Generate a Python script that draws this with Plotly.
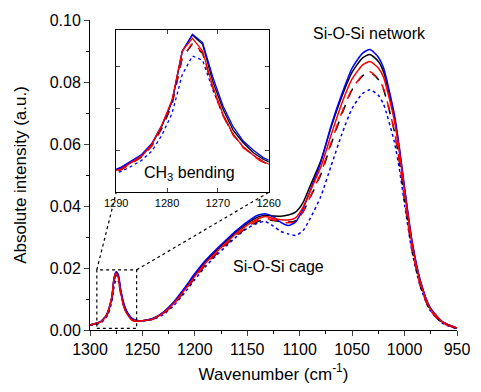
import plotly.graph_objects as go

# ---------------- data ----------------
wavenumber = [1300, 1296, 1291, 1289, 1287, 1285, 1283, 1281, 1279, 1277, 1275, 1273, 1271, 1269,
              1267, 1265, 1263, 1261, 1259, 1255, 1250, 1240, 1230, 1220, 1210, 1200, 1190, 1180,
              1170, 1160, 1150, 1140, 1133, 1125, 1118, 1111, 1104, 1097, 1090, 1080, 1070, 1060,
              1050, 1040, 1033, 1025, 1020, 1010, 1005, 1000, 993, 985, 976, 964, 950]

black_solid = [0.0016, 0.0020, 0.0025, 0.0029, 0.0036, 0.0043, 0.0057, 0.0079, 0.0108, 0.0168, 0.0187, 0.0176, 0.0132, 0.0099,
               0.0074, 0.0059, 0.0047, 0.0039, 0.0034, 0.0030, 0.0030, 0.0037, 0.0057, 0.0089, 0.0132, 0.0178, 0.0220, 0.0255,
               0.0287, 0.0318, 0.0344, 0.0364, 0.0370, 0.0368, 0.0367, 0.0371, 0.0380, 0.0410, 0.0465, 0.0545, 0.0655, 0.0752,
               0.0832, 0.0878, 0.0889, 0.0866, 0.0832, 0.0690, 0.0582, 0.0453, 0.0285, 0.0157, 0.0073, 0.0026, 0.0006]

blue_solid = [0.0016, 0.0020, 0.0025, 0.0030, 0.0037, 0.0045, 0.0058, 0.0080, 0.0108, 0.0167, 0.0188, 0.0178, 0.0137, 0.0103,
              0.0078, 0.0061, 0.0050, 0.0041, 0.0036, 0.0031, 0.0030, 0.0037, 0.0058, 0.0091, 0.0135, 0.0182, 0.0224, 0.0259,
              0.0291, 0.0322, 0.0349, 0.0370, 0.0375, 0.0365, 0.0347, 0.0337, 0.0348, 0.0390, 0.0450, 0.0540, 0.0660, 0.0760,
              0.0845, 0.0893, 0.0905, 0.0880, 0.0845, 0.0700, 0.0590, 0.0460, 0.0290, 0.0160, 0.0075, 0.0027, 0.0006]

red_solid = [0.0016, 0.0020, 0.0024, 0.0028, 0.0035, 0.0043, 0.0057, 0.0080, 0.0110, 0.0168, 0.0183, 0.0168, 0.0126, 0.0093,
             0.0069, 0.0054, 0.0044, 0.0036, 0.0032, 0.0029, 0.0030, 0.0036, 0.0055, 0.0086, 0.0128, 0.0173, 0.0215, 0.0250,
             0.0282, 0.0313, 0.0338, 0.0358, 0.0366, 0.0360, 0.0356, 0.0355, 0.0362, 0.0395, 0.0448, 0.0525, 0.0630, 0.0730,
             0.0810, 0.0855, 0.0866, 0.0845, 0.0815, 0.0680, 0.0575, 0.0448, 0.0282, 0.0155, 0.0072, 0.0026, 0.0006]

black_dashed = [0.0015, 0.0019, 0.0023, 0.0027, 0.0034, 0.0042, 0.0055, 0.0076, 0.0104, 0.0160, 0.0176, 0.0165, 0.0125, 0.0092,
                0.0069, 0.0054, 0.0044, 0.0036, 0.0031, 0.0029, 0.0030, 0.0035, 0.0053, 0.0083, 0.0124, 0.0168, 0.0209, 0.0244,
                0.0276, 0.0306, 0.0331, 0.0350, 0.0356, 0.0353, 0.0349, 0.0348, 0.0352, 0.0380, 0.0428, 0.0500, 0.0600, 0.0695,
                0.0775, 0.0820, 0.0831, 0.0808, 0.0775, 0.0645, 0.0545, 0.0420, 0.0262, 0.0143, 0.0066, 0.0023, 0.0005]

red_dashed = [0.0015, 0.0019, 0.0023, 0.0027, 0.0034, 0.0042, 0.0055, 0.0077, 0.0106, 0.0160, 0.0178, 0.0166, 0.0124, 0.0091,
              0.0068, 0.0053, 0.0043, 0.0035, 0.0030, 0.0029, 0.0030, 0.0035, 0.0054, 0.0085, 0.0126, 0.0170, 0.0211, 0.0246,
              0.0278, 0.0308, 0.0333, 0.0353, 0.0360, 0.0355, 0.0348, 0.0346, 0.0350, 0.0380, 0.0430, 0.0505, 0.0605, 0.0700,
              0.0778, 0.0822, 0.0833, 0.0810, 0.0778, 0.0645, 0.0545, 0.0420, 0.0262, 0.0143, 0.0066, 0.0023, 0.0005]

blue_dotted = [0.0015, 0.0018, 0.0021, 0.0025, 0.0031, 0.0038, 0.0049, 0.0068, 0.0094, 0.0140, 0.0162, 0.0157, 0.0122, 0.0092,
               0.0069, 0.0054, 0.0044, 0.0036, 0.0031, 0.0028, 0.0029, 0.0034, 0.0050, 0.0079, 0.0119, 0.0163, 0.0204, 0.0239,
               0.0271, 0.0302, 0.0328, 0.0345, 0.0350, 0.0335, 0.0318, 0.0310, 0.0305, 0.0320, 0.0360, 0.0430, 0.0530, 0.0630,
               0.0715, 0.0763, 0.0775, 0.0757, 0.0728, 0.0610, 0.0520, 0.0405, 0.0255, 0.0140, 0.0065, 0.0022, 0.0004]

x_ticks = [1300, 1250, 1200, 1150, 1100, 1050, 1000, 950]
y_ticks = [0.00, 0.02, 0.04, 0.06, 0.08, 0.10]
inset_x_ticks = [1290, 1280, 1270, 1260]
# ---------------------------------------

series = [
    ("blue dotted", blue_dotted, "#0000ff", "dot"),
    ("black dashed", black_dashed, "#000000", "dash"),
    ("red dashed", red_dashed, "#ff0000", "dash"),
    ("black", black_solid, "#000000", "solid"),
    ("blue", blue_solid, "#0000ff", "solid"),
    ("red", red_solid, "#ff0000", "solid"),
]

FONT = "Liberation Sans, Arial, sans-serif"
fig = go.Figure()

for name, vals, col, dash in series:
    fig.add_trace(go.Scatter(x=wavenumber, y=vals, mode="lines", name=name,
                             line=dict(color=col, width=1.5, dash=dash, shape="spline", smoothing=0.6),
                             xaxis="x", yaxis="y", showlegend=False))
for name, vals, col, dash in series:
    fig.add_trace(go.Scatter(x=wavenumber, y=vals, mode="lines", name=name,
                             line=dict(color=col, width=1.3, dash=dash),
                             xaxis="x2", yaxis="y2", showlegend=False, cliponaxis=True))

x_range = [1300, 950]
y_range = [0, 0.10]
inset_xdom = [0.0714, 0.4868]
inset_ydom = [0.444, 0.968]
inset_xrange = [1290, 1260]
inset_yrange = [0, 0.0193]

fig.update_layout(
    width=481, height=392,
    margin=dict(l=90, r=13, t=20, b=59),
    paper_bgcolor="white", plot_bgcolor="white",
    font=dict(family=FONT, size=15, color="black"),
    xaxis=dict(range=x_range, domain=[0, 1], tickvals=x_ticks, ticks="outside", ticklen=5,
               tickwidth=1, showline=True, linecolor="black", linewidth=1, showgrid=False,
               zeroline=False, tickfont=dict(family=FONT, size=16),
               minor=dict(dtick=25, tick0=950, ticks="outside", ticklen=3, tickcolor="black"),
               title=dict(text="Wavenumber (cm<sup>-1</sup>)", font=dict(family=FONT, size=17), standoff=10)),
    yaxis=dict(range=y_range, domain=[0, 1], tickvals=y_ticks, tickformat=".2f", ticks="outside",
               ticklen=5, tickwidth=1, showline=True, linecolor="black", linewidth=1,
               showgrid=False, zeroline=False, tickfont=dict(family=FONT, size=16),
               minor=dict(dtick=0.01, tick0=0, ticks="outside", ticklen=3, tickcolor="black"),
               title=dict(text="Absolute intensity (a.u.)", font=dict(family=FONT, size=17), standoff=18)),
    xaxis2=dict(range=inset_xrange, domain=inset_xdom, anchor="y2", tickvals=inset_x_ticks,
                ticks="inside", ticklen=4, showline=True, mirror="ticks", linecolor="black",
                linewidth=1, showgrid=False, zeroline=False, tickfont=dict(family=FONT, size=11)),
    yaxis2=dict(range=inset_yrange, domain=inset_ydom, anchor="x2", dtick=0.005, tick0=0,
                ticks="inside", ticklen=4, showline=True, mirror="ticks", linecolor="black",
                linewidth=1, showgrid=False, zeroline=False, showticklabels=False),
)

# dotted zoom rectangle and connectors (main-axis data coordinates)
rect_x = [1293.5, 1255.5]
rect_y = [0.0005, 0.0194]
dot_line = dict(color="black", width=1.2, dash="dot")
fig.add_shape(type="rect", xref="x", yref="y", x0=rect_x[0], x1=rect_x[1], y0=rect_y[0], y1=rect_y[1],
              line=dot_line, fillcolor="rgba(0,0,0,0)")


def paper_to_x(px):
    return x_range[0] + px * (x_range[1] - x_range[0])


def paper_to_y(py):
    return y_range[0] + py * (y_range[1] - y_range[0])


fig.add_shape(type="line", xref="x", yref="y", x0=rect_x[0], y0=rect_y[1],
              x1=paper_to_x(inset_xdom[0]), y1=paper_to_y(inset_ydom[0]), line=dot_line)
fig.add_shape(type="line", xref="x", yref="y", x0=rect_x[1], y0=rect_y[1],
              x1=paper_to_x(inset_xdom[1]), y1=paper_to_y(inset_ydom[0]), line=dot_line)

fig.add_annotation(x=1033, y=0.0955, xref="x", yref="y", text="Si-O-Si network", showarrow=False,
                   font=dict(family=FONT, size=16, color="black"), xanchor="center", yanchor="middle")
fig.add_annotation(x=1120, y=0.0205, xref="x", yref="y", text="Si-O-Si cage", showarrow=False,
                   font=dict(family=FONT, size=16, color="black"), xanchor="center", yanchor="middle")
fig.add_annotation(x=1275.5, y=0.0023, xref="x2", yref="y2", text="CH<sub>3</sub> bending", showarrow=False,
                   font=dict(family=FONT, size=16, color="black"), xanchor="center", yanchor="middle")

fig.write_html("out.html")
